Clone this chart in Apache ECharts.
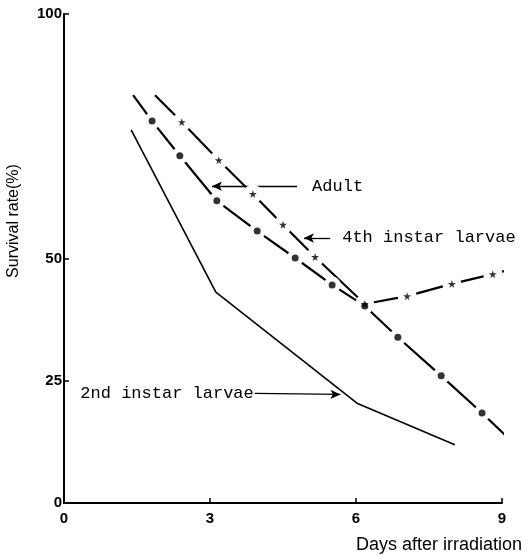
<!DOCTYPE html>
<html>
<head>
<meta charset="utf-8">
<script src="https://cdn.jsdelivr.net/npm/echarts@6/dist/echarts.min.js"></script>
<style>
  html, body { margin: 0; padding: 0; background: #fff; }
  #chart { width: 530px; height: 556px; }
</style>
</head>
<body>
<div id="chart"></div>
<script>
// ---- Data ----
const xTickLabels = [0, 3, 6, 9];
const yTickLabels = [0, 25, 50, 100];

// 2nd instar larvae (solid line)
const days2nd = [1.38, 3.12, 6.02, 8.03];
const rate2nd = [76.3, 43.1, 20.4, 11.9];

// Adult (dash line with filled circles)
const daysAdult = [1.42, 1.81, 2.38, 3.14, 3.97, 4.75, 5.51, 6.18, 6.86, 7.75, 8.59, 9.23];
const rateAdult = [83.4, 78.1, 71.0, 61.8, 55.6, 50.1, 44.6, 40.3, 33.9, 26.0, 18.4, 12.3];
const markAdult = [false, true, true, true, true, true, true, true, true, true, true, false];

// 4th instar larvae (dash line with stars)
const days4th = [1.87, 2.42, 3.18, 3.88, 4.50, 5.16, 6.18, 7.05, 7.97, 8.81, 9.31];
const rate4th = [83.4, 77.9, 70.1, 63.2, 56.9, 50.3, 40.7, 42.3, 44.8, 46.8, 48.1];
const mark4th = [false, true, true, true, true, true, true, true, true, true, false];

// ---- Build series data ----
const pts = (xs, ys) => xs.map((x, i) => [x, ys[i]]);
const marked = (xs, ys, m) => xs.map((x, i) => [x, ys[i]]).filter((_, i) => m[i]);

const line2nd = pts(days2nd, rate2nd);
const lineAdult = pts(daysAdult, rateAdult);
const line4th = pts(days4th, rate4th);
const mAdult = marked(daysAdult, rateAdult, markAdult);
const m4th = marked(days4th, rate4th, mark4th);

const STAR = 'path://M50,0 L61,35 L98,35 L68,57 L79,91 L50,70 L21,91 L32,57 L2,35 L39,35 Z';
const MONO = '"Liberation Mono", "DejaVu Sans Mono", monospace';
const SANS = '"Liberation Sans", Arial, sans-serif';

function arrow(from, to, text, dist) {
  return [
    { coord: from, symbol: 'none',
      label: { show: true, position: 'start', formatter: text, distance: dist,
               fontFamily: MONO, fontSize: 17, color: '#000' } },
    { coord: to, symbol: 'arrow', symbolSize: [7, 10] }
  ];
}

const markLineBase = {
  silent: true,
  animation: false,
  symbol: ['none', 'arrow'],
  lineStyle: { color: '#000', width: 1.3, type: 'solid' },
  emphasis: { disabled: true }
};

const chart = echarts.init(document.getElementById('chart'), null, { renderer: 'canvas' });
chart.setOption({
  animation: false,
  backgroundColor: '#fff',
  grid: { left: 64, right: 28, top: 14, bottom: 53 },
  xAxis: {
    type: 'value', min: 0, max: 9, interval: 3,
    splitLine: { show: false },
    axisLine: { lineStyle: { color: '#000', width: 2 } },
    axisTick: { inside: true, length: 5, customValues: [3, 6, 9], lineStyle: { color: '#000', width: 1.5 } },
    axisLabel: { customValues: xTickLabels, color: '#000', fontSize: 15, fontWeight: 'bold',
                 fontFamily: SANS, margin: 8 }
  },
  yAxis: {
    type: 'value', min: 0, max: 100, interval: 25,
    splitLine: { show: false },
    axisLine: { lineStyle: { color: '#000', width: 2 } },
    axisTick: { inside: true, length: 5, customValues: [25, 50, 100], lineStyle: { color: '#000', width: 1.5 } },
    axisLabel: { customValues: yTickLabels, color: '#000', fontSize: 15, fontWeight: 'bold',
                 fontFamily: SANS, margin: 2 }
  },
  graphic: [
    { type: 'text', x: 14, y: 221, rotation: Math.PI / 2,
      style: { text: 'Survival rate(%)', align: 'center', verticalAlign: 'middle',
               fontFamily: SANS, fontSize: 16, fill: '#000' } },
    { type: 'text', x: 522, y: 545,
      style: { text: 'Days after irradiation', align: 'right', verticalAlign: 'middle',
               fontFamily: SANS, fontSize: 18, fill: '#000' } }
  ],
  series: [
    {
      name: '2nd instar larvae', type: 'line', data: line2nd, clip: false,
      showSymbol: false, symbol: 'none', z: 1,
      lineStyle: { color: '#000', width: 1.6 },
      markLine: Object.assign({}, markLineBase, {
        data: [arrow([3.92, 22.4], [5.68, 22.2], '2nd instar larvae', 1)]
      })
    },
    {
      name: 'Adult', type: 'line', data: lineAdult, clip: false,
      showSymbol: false, symbol: 'none', z: 1,
      lineStyle: { color: '#000', width: 2.2 },
      markLine: Object.assign({}, markLineBase, {
        data: [arrow([4.79, 64.8], [3.04, 64.8], 'Adult', 15)]
      })
    },
    {
      name: '4th instar larvae', type: 'line', data: line4th, clip: false,
      showSymbol: false, symbol: 'none', z: 1,
      lineStyle: { color: '#000', width: 2.2 },
      markLine: Object.assign({}, markLineBase, {
        data: [arrow([5.47, 54.2], [4.93, 54.2], '4th instar larvae', 12)]
      })
    },
    {
      name: 'gapAdult', type: 'scatter', data: mAdult, clip: false, silent: true,
      symbol: 'circle', symbolSize: 17, z: 10,
      itemStyle: { color: '#ffffff', opacity: 1 }
    },
    {
      name: 'gap4th', type: 'scatter', data: m4th, clip: false, silent: true,
      symbol: 'circle', symbolSize: 19, z: 10,
      itemStyle: { color: '#ffffff', opacity: 1 }
    },
    {
      name: 'Adult marks', type: 'scatter', data: mAdult, clip: false, silent: true,
      symbol: 'circle', symbolSize: 7, z: 11,
      itemStyle: { color: '#000' }
    },
    {
      name: '4th marks', type: 'scatter', data: m4th, clip: false, silent: true,
      symbol: STAR, symbolSize: 8, z: 11,
      itemStyle: { color: '#000' }
    }
  ]
});
</script>
</body>
</html>
